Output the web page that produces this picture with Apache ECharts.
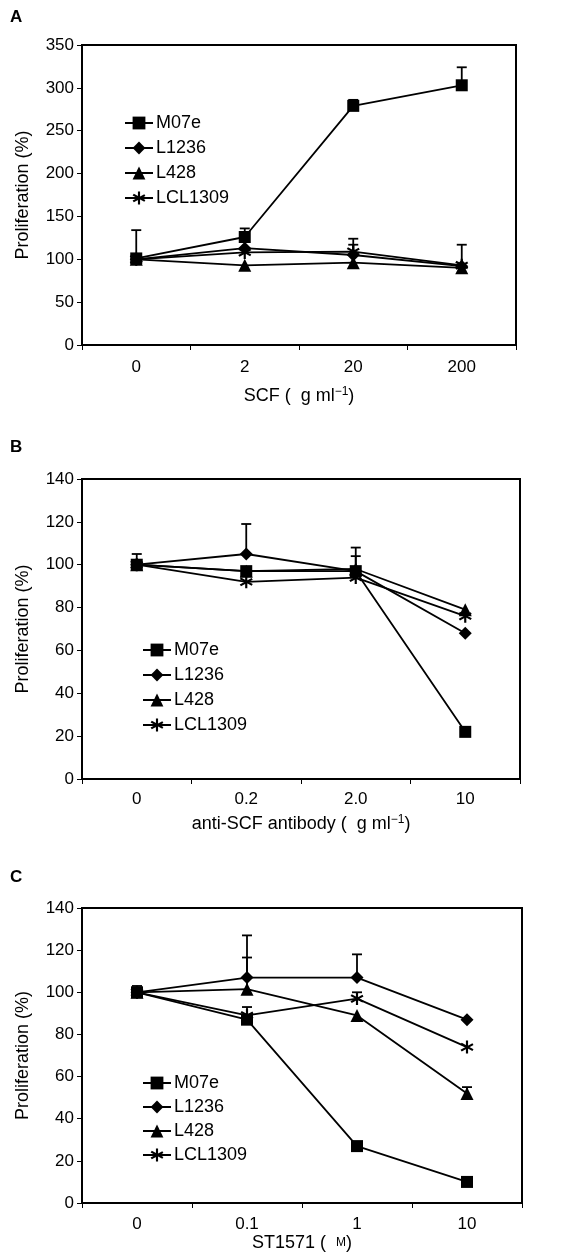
<!DOCTYPE html>
<html>
<head>
<meta charset="utf-8">
<script src="https://cdn.jsdelivr.net/npm/echarts@6/dist/echarts.min.js"></script>
<style>
  html, body { margin: 0; padding: 0; background: #fff; }
  #chart { width: 582px; height: 1259px; }
</style>
</head>
<body>
<div id="chart"></div>
<script>
var names = ['M07e', 'L1236', 'L428', 'LCL1309'];

// panel A
var catsA = ['0', '2', '20', '200'];
var a_M07e = [101, 126, 279, 303];
var a_L1236 = [100, 113, 105, 92];
var a_L428 = [100, 93, 96, 90];
var a_LCL1309 = [100, 108, 109, 93];
var aErr_M07e = [33, 10, 7, 21];
var aErr_L1236 = [null, null, 12, null];
var aErr_L428 = [null, null, null, null];
var aErr_LCL1309 = [null, null, 15, 24];
var ticksA = [0, 350, 50];

// panel B
var catsB = ['0', '0.2', '2.0', '10'];
var b_M07e = [100, 97, 97, 22];
var b_L1236 = [100, 105, 97, 68];
var b_L428 = [100, 97, 98, 79];
var b_LCL1309 = [100, 92, 94, 76];
var bErr_M07e = [5, null, null, null];
var bErr_L1236 = [null, 14, 11, null];
var bErr_L428 = [null, null, null, null];
var bErr_LCL1309 = [null, null, 10, null];
var ticksB = [0, 140, 20];

// panel C
var catsC = ['0', '0.1', '1', '10'];
var c_M07e = [100, 87, 27, 10];
var c_L1236 = [100, 107, 107, 87];
var c_L428 = [100, 101.5, 89, 52];
var c_LCL1309 = [100, 89, 97, 74];
var cErr_M07e = [3, null, null, 1];
var cErr_L1236 = [null, 20, 11, null];
var cErr_L428 = [null, 15, null, 3];
var cErr_LCL1309 = [null, 4, 3, null];
var ticksC = [0, 140, 20];

// six-armed asterisk, thick arms
var asterisk = 'path://M4.2 0L5.8 0L5.8 10L4.2 10Z' +
    'M1.1 1.6L9.8 6.6L9.0 8.0L0.2 3.0Z' +
    'M0.2 7.0L9.0 2.0L9.8 3.4L1.1 8.4Z';
var symbols = ['rect', 'diamond', 'triangle', asterisk];
var sizes = [12, 13, 13, 13];

var font = 'Liberation Sans, Arial, sans-serif';

var panels = [
    { cats: catsA, vals: [a_M07e, a_L1236, a_L428, a_LCL1309],
      errs: [aErr_M07e, aErr_L1236, aErr_L428, aErr_LCL1309], ticks: ticksA,
      grid: { left: 82, top: 45, width: 434, height: 300 }, nameGap: 41, labelMargin: 14,
      xname: 'SCF (  g ml{sup|\u22121})', legend: { left: 124, top: 114 }, gap: 7, label: 'A', labelTop: 9 },
    { cats: catsB, vals: [b_M07e, b_L1236, b_L428, b_LCL1309],
      errs: [bErr_M07e, bErr_L1236, bErr_L428, bErr_LCL1309], ticks: ticksB,
      grid: { left: 82, top: 479, width: 438, height: 300 }, nameGap: 35, labelMargin: 12,
      xname: 'anti-SCF antibody (  g ml{sup|\u22121})', legend: { left: 142, top: 641 }, gap: 7, label: 'B', labelTop: 439 },
    { cats: catsC, vals: [c_M07e, c_L1236, c_L428, c_LCL1309],
      errs: [cErr_M07e, cErr_L1236, cErr_L428, cErr_LCL1309], ticks: ticksC,
      grid: { left: 82, top: 908, width: 440, height: 295 }, nameGap: 30, labelMargin: 13,
      xname: 'ST1571 (  {sc|M})', legend: { left: 142, top: 1074 }, gap: 6, label: 'C', labelTop: 869 }
];

var grids = [], xAxes = [], yAxes = [], series = [], legends = [], titles = [];

panels.forEach(function (p, gi) {
    var g = Object.assign({ show: true, borderColor: '#000', borderWidth: 2, backgroundColor: '#fff' }, p.grid);
    grids.push(g);
    xAxes.push({
        type: 'category', gridIndex: gi, data: p.cats, boundaryGap: true,
        axisLine: { lineStyle: { color: '#000', width: 1.6 } },
        axisTick: { show: true, length: 5, lineStyle: { color: '#000' } },
        axisLabel: { color: '#000', fontSize: 17, fontFamily: font, margin: p.labelMargin },
        name: p.xname, nameLocation: 'middle', nameGap: p.nameGap,
        nameTextStyle: { color: '#000', fontSize: 18, fontFamily: font,
            rich: { sup: { fontSize: 12, verticalAlign: 'top', padding: [0, 0, 9, 0], color: '#000', fontFamily: font },
                    sc: { fontSize: 12, color: '#000', fontFamily: font } } }
    });
    yAxes.push({
        type: 'value', gridIndex: gi, min: p.ticks[0], max: p.ticks[1], interval: p.ticks[2],
        axisLine: { show: true, lineStyle: { color: '#000', width: 1.6 } },
        axisTick: { show: true, length: 5, lineStyle: { color: '#000' } },
        splitLine: { show: false },
        axisLabel: { color: '#000', fontSize: 17, fontFamily: font, margin: 8 },
        name: 'Proliferation (%)', nameLocation: 'middle', nameGap: 50,
        nameTextStyle: { color: '#000', fontSize: 18, fontFamily: font }
    });
    names.forEach(function (n, si) {
        series.push({
            name: n, type: 'line', xAxisIndex: gi, yAxisIndex: gi,
            data: p.vals[si], symbol: symbols[si], symbolSize: sizes[si],
            showAllSymbol: true, z: 3,
            lineStyle: { color: '#000', width: 1.8 },
            itemStyle: { color: '#000' }
        });
        var errData = [];
        p.errs[si].forEach(function (e, i) {
            if (e != null) errData.push([i, p.vals[si][i], e]);
        });
        series.push({
            name: 'err' + gi + '_' + si, type: 'custom', xAxisIndex: gi, yAxisIndex: gi, z: 2,
            data: errData,
            renderItem: function (params, api) {
                var base = api.coord([api.value(0), api.value(1)]);
                var top = api.coord([api.value(0), api.value(1) + api.value(2)]);
                var style = { stroke: '#000', lineWidth: 1.8 };
                return { type: 'group', children: [
                    { type: 'line', shape: { x1: base[0], y1: base[1], x2: top[0], y2: top[1] }, style: style },
                    { type: 'line', shape: { x1: top[0] - 5, y1: top[1], x2: top[0] + 5, y2: top[1] }, style: style }
                ] };
            }
        });
    });
    legends.push({
        data: names, orient: 'vertical', left: p.legend.left, top: p.legend.top,
        itemWidth: 28, itemHeight: 16, itemGap: p.gap, padding: 0,
        textStyle: { color: '#000', fontSize: 18, fontFamily: font, padding: [0, 0, 0, -2] },
        selectedMode: false
    });
    titles.push({
        text: p.label, left: 10, top: p.labelTop, padding: 0,
        textStyle: { color: '#000', fontSize: 17, fontWeight: 'bold', fontFamily: font }
    });
});

var chart = echarts.init(document.getElementById('chart'));
chart.setOption({
    animation: false,
    backgroundColor: '#fff',
    title: titles,
    legend: legends,
    grid: grids,
    xAxis: xAxes,
    yAxis: yAxes,
    series: series
});
</script>
</body>
</html>
